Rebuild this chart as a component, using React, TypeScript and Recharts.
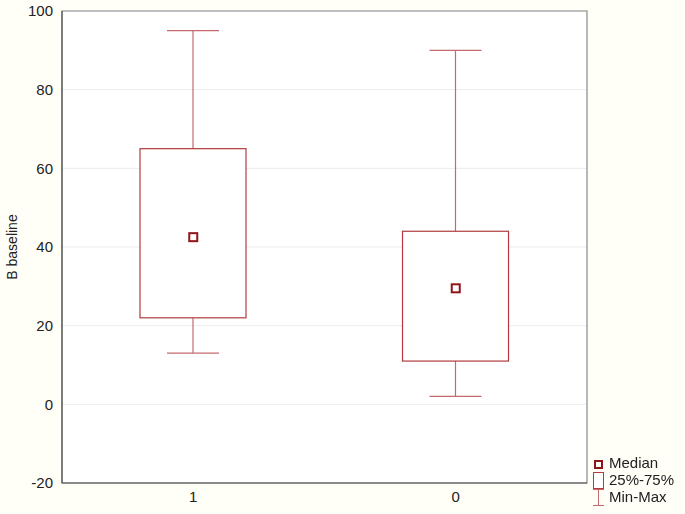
import React from "react";
import {
  ComposedChart,
  Bar,
  Scatter,
  XAxis,
  YAxis,
  CartesianGrid,
  ReferenceArea,
} from "recharts";

const grupos = ["1", "0"];
const minimos = [13, 2];
const quartil1 = [22, 11];
const medianas = [42.5, 29.5];
const quartil3 = [65, 44];
const maximos = [95, 90];
const ticksY = [-20, 0, 20, 40, 60, 80, 100];
const rotulosLegenda = ["Median", "25%-75%", "Min-Max"];

const COR_CAIXA = "#b23b3d";
const COR_BIGODE = "#c46a6e";
const COR_MEDIANA = "#8e1518";
const FONTE = "'Liberation Sans', Arial, sans-serif";

const dados = grupos.map((g, i) => ({
  grupo: g,
  mediana: medianas[i],
  caixa: [quartil1[i], quartil3[i]],
  bigode: [minimos[i], maximos[i]],
}));

const Bigode = (props: any) => {
  const { x, y, width, height } = props;
  const cx = x + width / 2;
  return (
    <g stroke={COR_BIGODE} strokeWidth={1.2}>
      <line x1={cx} y1={y} x2={cx} y2={y + height} />
      <line x1={x} y1={y} x2={x + width} y2={y} />
      <line x1={x} y1={y + height} x2={x + width} y2={y + height} />
    </g>
  );
};

const Caixa = (props: any) => {
  const { x, y, width, height } = props;
  return <rect x={x} y={y} width={width} height={height} fill="#fff" stroke={COR_CAIXA} strokeWidth={1.2} />;
};

const Mediana = (props: any) => {
  const { cx, cy } = props;
  return <rect x={cx - 4} y={cy - 4} width={8} height={8} fill="#fff" stroke={COR_MEDIANA} strokeWidth={2} />;
};

function Legenda() {
  return (
    <svg
      width={100}
      height={60}
      style={{ position: "absolute", left: 588, top: 452, overflow: "visible" }}
    >
      <rect x={7} y={9} width={7} height={7} fill="#fff" stroke={COR_MEDIANA} strokeWidth={2} />
      <rect x={5.5} y={20.5} width={10} height={16} fill="#fff" stroke={COR_CAIXA} strokeWidth={1} />
      <g stroke={COR_BIGODE} strokeWidth={1}>
        <line x1={5} y1={37.5} x2={16} y2={37.5} />
        <line x1={10.5} y1={37.5} x2={10.5} y2={53.5} />
        <line x1={5} y1={53.5} x2={16} y2={53.5} />
      </g>
      {rotulosLegenda.map((r, i) => (
        <text
          key={r}
          x={21}
          y={11 + i * 17}
          dy="0.36em"
          fontFamily={FONTE}
          fontSize={15}
          fill="#222"
        >
          {r}
        </text>
      ))}
    </svg>
  );
}

export default function App() {
  return (
    <div style={{ position: "fixed", left: 0, top: 0, width: 685, height: 514, background: "#fffef7" }}>
      <ComposedChart
        width={685}
        height={514}
        data={dados}
        margin={{ top: 11, right: 98, bottom: 1, left: 0 }}
      >
        <CartesianGrid vertical={false} stroke="#ebebeb" fill="#ffffff" />
        <XAxis
          xAxisId="a"
          dataKey="grupo"
          height={30}
          tickLine={false}
          tickSize={6}
          tickMargin={2}
          axisLine={{ stroke: "#555", strokeWidth: 1.2 }}
          tick={{ fill: "#222", fontSize: 15, fontFamily: FONTE }}
        />
        <XAxis xAxisId="b" dataKey="grupo" hide />
        <YAxis
          domain={[-20, 100]}
          ticks={ticksY}
          width={62}
          tickLine={false}
          tickSize={6}
          tickMargin={3}
          axisLine={{ stroke: "#555", strokeWidth: 1.2 }}
          tick={{ fill: "#222", fontSize: 15, fontFamily: FONTE }}
          label={{
            value: "B baseline",
            angle: -90,
            position: "insideLeft",
            offset: 12,
            style: { fill: "#222", fontSize: 14, fontFamily: FONTE, textAnchor: "middle" },
          }}
        />
        <ReferenceArea xAxisId="a" y1={-20} y2={100} fill="none" stroke="#888" strokeWidth={1.2} ifOverflow="visible" />
        <Bar xAxisId="b" dataKey="bigode" barSize={52} shape={Bigode} isAnimationActive={false} />
        <Bar xAxisId="a" dataKey="caixa" barSize={106} shape={Caixa} isAnimationActive={false} />
        <Scatter xAxisId="a" dataKey="mediana" shape={Mediana} isAnimationActive={false} />
      </ComposedChart>
      <Legenda />
    </div>
  );
}
